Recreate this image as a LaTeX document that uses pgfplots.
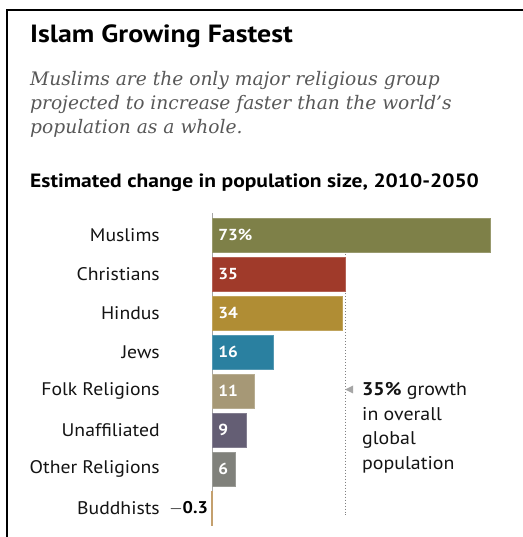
\documentclass[border=0pt]{standalone}
\usepackage{fontspec}
\setmainfont[FakeStretch=1.08]{PT Sans}
\newfontfamily\headfont[FakeStretch=1.12]{PT Sans}
\newfontfamily\subfont{DejaVu Serif}
\usepackage{pgfplots}
\pgfplotsset{compat=1.18}
\definecolor{cMus}{RGB}{126,128,72}
\definecolor{cChr}{RGB}{160,58,42}
\definecolor{cHin}{RGB}{176,141,52}
\definecolor{cJew}{RGB}{42,128,160}
\definecolor{cFolk}{RGB}{166,152,118}
\definecolor{cUna}{RGB}{100,94,116}
\definecolor{cOth}{RGB}{128,129,123}
\definecolor{cBud}{RGB}{196,160,110}
\definecolor{subgray}{RGB}{88,88,88}
\begin{document}
\begin{tikzpicture}[x=1bp,y=1bp]
\useasboundingbox (0,0) rectangle (523,537);
\fill[white] (0,0) rectangle (523,537);
\draw[line width=1.5bp] (7,0) -- (7,527) -- (523,527);
\node[anchor=base west, inner sep=0, font=\headfont\fontsize{25}{29}\selectfont\bfseries] at (30,494) {Islam Growing Fastest};
\node[anchor=base west, inner sep=0, text=subgray, font=\subfont\fontsize{18.7}{22}\selectfont\itshape] at (30,451) {Muslims are the only major religious group};
\node[anchor=base west, inner sep=0, text=subgray, font=\subfont\fontsize{18.7}{22}\selectfont\itshape] at (30,427) {projected to increase faster than the world’s};
\node[anchor=base west, inner sep=0, text=subgray, font=\subfont\fontsize{18.7}{22}\selectfont\itshape] at (30,403) {population as a whole.};
\node[anchor=base west, inner sep=0, font=\headfont\fontsize{19.3}{23}\selectfont\bfseries] at (30,349) {Estimated change in population size, 2010-2050};
\begin{axis}[
  at={(208.18bp,9.5bp)}, anchor=south west,
  scale only axis, width=282.5bp, height=312bp,
  xmin=-1, xmax=73, ymin=-0.5, ymax=7.5,
  xbar, bar width=34bp, bar shift=0pt,
  axis line style={draw=none}, major tick length=0pt,
  xtick=\empty, ytick={0,1,2,3,4,5,6,7},
  yticklabels={Buddhists,Other Religions,Unaffiliated,Folk Religions,Jews,Hindus,Christians,Muslims},
  yticklabel style={anchor=east, inner sep=0pt, xshift=-48.2bp, font=\fontsize{18.3}{21}\selectfont, text=black!92},
  clip=false,
]
\draw[gray!70, line width=0.8bp] (axis cs:0,7.56) -- (axis cs:0,-0.38);
\draw[gray, dotted, line width=1bp] (axis cs:35,7.43) -- (axis cs:35,-0.18);
\addplot[fill=cMus, draw=cMus!80!white] coordinates {(73,7)};
\addplot[fill=cChr, draw=cChr!80!white] coordinates {(35,6)};
\addplot[fill=cHin, draw=cHin!80!white] coordinates {(34,5)};
\addplot[fill=cJew, draw=cJew!80!white] coordinates {(16,4)};
\addplot[fill=cFolk, draw=cFolk!80!white] coordinates {(11,3)};
\addplot[fill=cUna, draw=cUna!80!white] coordinates {(9,2)};
\addplot[fill=cOth, draw=cOth!80!white] coordinates {(6,1)};
\addplot[fill=cBud, draw=cBud] coordinates {(-0.3,0)};
\begin{scope}[every node/.style={anchor=west, inner sep=0pt, text=white, font=\fontsize{16}{19}\selectfont\bfseries}]
\node at (axis cs:1.6,7) {73\%};
\node at (axis cs:1.6,6) {35};
\node at (axis cs:1.6,5) {34};
\node at (axis cs:1.6,4) {16};
\node at (axis cs:1.6,3) {11};
\node at (axis cs:1.6,2) {9};
\node at (axis cs:1.6,1) {6};
\end{scope}
\node[anchor=east, inner sep=0pt, font=\fontsize{17}{19}\selectfont\bfseries] at (axis cs:-1.0,0) {$-$0.3};
\end{axis}
\fill[gray!70] (345,147.5) -- (353,151.5) -- (353,143.5) -- cycle;
\begin{scope}[every node/.style={anchor=base west, inner sep=0pt, font=\fontsize{18.5}{21}\selectfont, text=black!92}]
\node at (362,141) {\textbf{35\%} growth};
\node at (362,116.5) {in overall};
\node at (362,92) {global};
\node at (362,67.5) {population};
\end{scope}
\end{tikzpicture}
\end{document}
